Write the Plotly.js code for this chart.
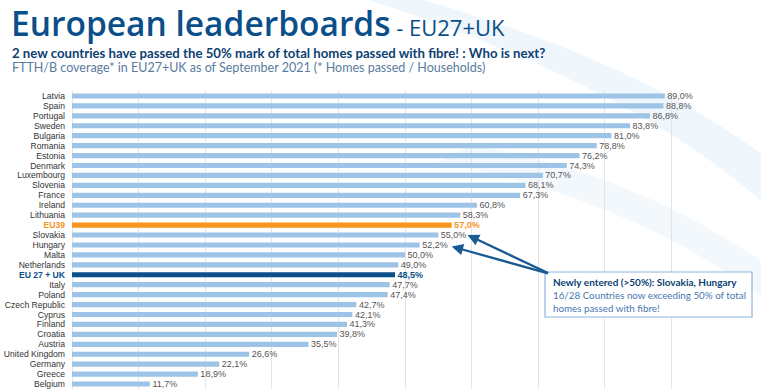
<!DOCTYPE html>
<html>
<head>
<meta charset="utf-8">
<script src="https://cdn.plot.ly/plotly-3.0.1.min.js"></script>
<style>html,body{margin:0;padding:0;background:#fff;}#chart{width:761px;height:392px;}</style>
</head>
<body>
<div id="chart"></div>
<script>
// ---- data ----
const countries = ['Latvia','Spain','Portugal','Sweden','Bulgaria','Romania','Estonia','Denmark','Luxembourg','Slovenia','France','Ireland','Lithuania','EU39','Slovakia','Hungary','Malta','Netherlands','EU 27 + UK','Italy','Poland','Czech Republic','Cyprus','Finland','Croatia','Austria','United Kingdom','Germany','Greece','Belgium'];
const coverage = [89.0,88.8,86.8,83.8,81.0,78.8,76.2,74.3,70.7,68.1,67.3,60.8,58.3,57.0,55.0,52.2,50.0,49.0,48.5,47.7,47.4,42.7,42.1,41.3,39.8,35.5,26.6,22.1,18.9,11.7];
const highlightEU39 = 'EU39';
const highlightEU = 'EU 27 + UK';
const newlyEntered = ['Slovakia','Hungary'];

// ---- styles ----
const LIGHT = '#9dc3e6', ORANGE = '#f7941d', NAVY = '#0b4f8a', GREY = '#555555';
const barColors = countries.map(c => c === highlightEU39 ? ORANGE : (c === highlightEU ? NAVY : LIGHT));
const fmt = v => '\u00a0' + v.toFixed(1).replace('.', ',') + '%';
const labelText = countries.map((c, i) => (c === highlightEU39 || c === highlightEU) ? '<b>' + fmt(coverage[i]) + '</b>' : fmt(coverage[i]));
const labelColors = countries.map(c => c === highlightEU39 ? ORANGE : (c === highlightEU ? NAVY : GREY));
const tickText = countries.map(c => c === highlightEU39 ? '<span style="color:' + ORANGE + '"><b>' + c + '</b></span>'
  : (c === highlightEU ? '<span style="color:' + NAVY + '"><b>' + c + '</b></span>' : c));

const trace = {
  type: 'bar', orientation: 'h',
  x: coverage, y: countries,
  marker: {color: barColors},
  width: 0.52,
  text: labelText, textposition: 'outside', cliponaxis: false, constraintext: 'none',
  textfont: {family: 'Liberation Sans, Arial, sans-serif', size: 9, color: labelColors},
  hoverinfo: 'none'
};

const W = 666; // plot width px
const idx = c => countries.indexOf(c);

const layout = {
  width: 761, height: 392,
  margin: {l: 72, r: 23, t: 91, b: 3, pad: 0},
  paper_bgcolor: '#ffffff', plot_bgcolor: 'rgba(0,0,0,0)',
  showlegend: false,
  separators: ',.',
  xaxis: {range: [0, 100], showticklabels: false, showgrid: true, gridcolor: '#e4e4e4', gridwidth: 1,
          dtick: 10, zeroline: true, zerolinecolor: '#e4e4e4', zerolinewidth: 1, fixedrange: true},
  yaxis: {autorange: 'reversed', tickmode: 'array', tickvals: countries, ticktext: tickText,
          tickfont: {family: 'Liberation Sans, Arial, sans-serif', size: 8.6, color: '#333333'},
          ticks: '', ticklabelstandoff: 6, showgrid: false, zeroline: false, showline: false},
  shapes: [
    {type: 'path', xref: 'paper', yref: 'paper', layer: 'below',
     path: 'M 0.52 1.31 Q 0.85 1.1 1.04 0.78 L 1.04 0.62 Q 0.84 1.02 0.44 1.31 Z',
     fillcolor: 'rgba(214,232,248,0.4)', line: {width: 0}},
    {type: 'path', xref: 'paper', yref: 'paper', layer: 'below',
     path: 'M 0.6 0.82 Q 0.85 0.72 1.04 0.42 L 1.04 0.3 Q 0.84 0.64 0.55 0.76 Z',
     fillcolor: 'rgba(214,232,248,0.3)', line: {width: 0}},
    {type: 'rect', xref: 'paper', yref: 'paper', x0: (545-72)/W, x1: (752-72)/W,
     y0: 1-(317-91)/298, y1: 1-(272-91)/298, fillcolor: '#ffffff', line: {color: '#8fb3e0', width: 1.2}, layer: 'above'}
  ],
  annotations: [
    {xref: 'paper', yref: 'paper', x: (9-72)/W, y: 1+(91-22.5)/298, xanchor: 'left', yanchor: 'middle', showarrow: false,
     text: '<span style="font-size:33.5px;font-weight:600">European leaderboards</span><span style="font-size:22px;font-weight:400"> - EU27+UK</span>',
     font: {family: 'Open Sans, sans-serif', size: 33.5, color: '#0a4f8a'}},
    {xref: 'paper', yref: 'paper', x: (10-72)/W, y: 1+(91-52.5)/298, xanchor: 'left', yanchor: 'middle', showarrow: false,
     text: '<b>2 new countries have passed the 50% mark of total homes passed with fibre! : Who is next?</b>',
     font: {family: 'Lato, Open Sans, sans-serif', size: 13.2, color: '#0d3f73'}},
    {xref: 'paper', yref: 'paper', x: (10-72)/W, y: 1+(91-67)/298, xanchor: 'left', yanchor: 'middle', showarrow: false,
     text: 'FTTH/B coverage* in EU27+UK as of September 2021 (* Homes passed / Households)',
     font: {family: 'Lato, Open Sans, sans-serif', size: 12.5, color: '#5a7ba0'}},
    // arrows
    {xref: 'x', yref: 'y', x: 59.4, y: idx(newlyEntered[0]), axref: 'x', ayref: 'y', ax: 71.7, ay: idx('EU 27 + UK') - 0.1,
     showarrow: true, arrowhead: 2, arrowsize: 1, arrowwidth: 2.3, arrowcolor: '#1a5a92', text: ''},
    {xref: 'x', yref: 'y', x: 57.0, y: idx(newlyEntered[1]) + 0.15, axref: 'x', ayref: 'y', ax: 71.7, ay: idx('EU 27 + UK') - 0.1,
     showarrow: true, arrowhead: 2, arrowsize: 1, arrowwidth: 2.3, arrowcolor: '#1a5a92', text: ''},
    // box text
    {xref: 'paper', yref: 'paper', x: (551-72)/W, y: 1-(282-91)/298, xanchor: 'left', yanchor: 'middle', showarrow: false,
     text: '<b>Newly entered (>50%): Slovakia, Hungary</b>',
     font: {family: 'Lato, Open Sans, sans-serif', size: 10, color: '#0d3f73'}},
    {xref: 'paper', yref: 'paper', x: (551-72)/W, y: 1-(301-91)/298, xanchor: 'left', yanchor: 'middle', showarrow: false, align: 'left',
     text: '16/28 Countries now exceeding 50% of total<br>homes passed with fibre!',
     font: {family: 'Lato, Open Sans, sans-serif', size: 9.8, color: '#4a78b0'}}
  ]
};

Plotly.newPlot('chart', [trace], layout, {displayModeBar: false, staticPlot: true});
</script>
</body>
</html>
